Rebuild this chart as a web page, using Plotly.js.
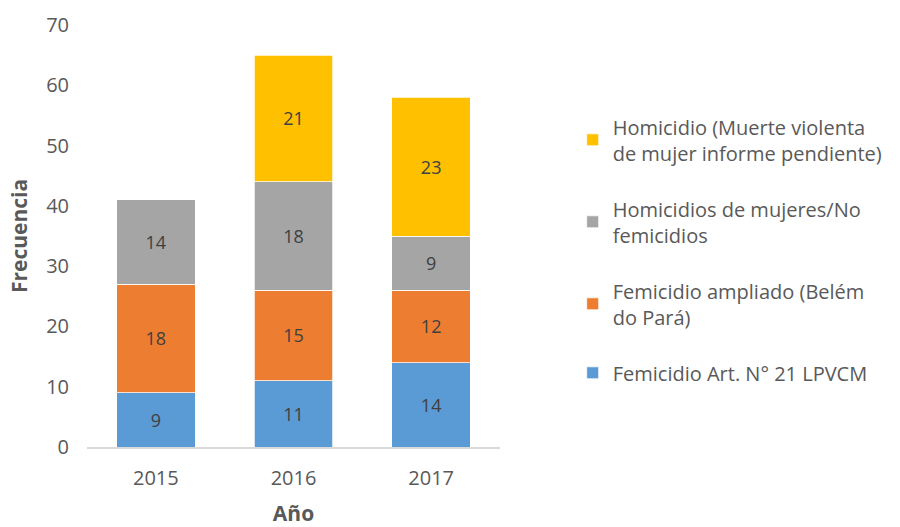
<!DOCTYPE html>
<html>
<head>
<meta charset="utf-8">
<script src="https://cdn.plot.ly/plotly-3.0.1.min.js"></script>
<style>html,body{margin:0;padding:0;background:#fff;}#chart{width:900px;height:527px;}</style>
</head>
<body>
<div id="chart"></div>
<script>
const years = ["2015", "2016", "2017"];
const seriesNames = [
  "Femicidio Art. N° 21 LPVCM",
  "Femicidio ampliado (Belém<br>do Pará)",
  "Homicidios de mujeres/No<br>femicidios",
  "Homicidio (Muerte violenta<br>de mujer informe pendiente)"
];
const femicidioArt21 = [9, 11, 14];
const femicidioAmpliado = [18, 15, 12];
const homicidiosNoFem = [14, 18, 9];
const homicidioPendiente = [null, 21, 23];
const colors = ["#5B9BD5", "#ED7D31", "#A5A5A5", "#FFC000"];
const yTicks = [0, 10, 20, 30, 40, 50, 60, 70];

const allValues = [femicidioArt21, femicidioAmpliado, homicidiosNoFem, homicidioPendiente];
const font = "Open Sans, sans-serif";

const traces = allValues.map((vals, i) => ({
  type: "bar",
  x: years,
  y: vals,
  name: seriesNames[i],
  legendgroup: "g" + i,
  legendrank: 1000 - i,
  marker: {color: colors[i], line: {color: "#ffffff", width: 0.75}},
  texttemplate: "%{y}",
  textposition: "inside",
  insidetextanchor: "middle",
  textangle: 0,
  constraintext: "none",
  insidetextfont: {family: font, size: 18, color: "#404040"},
  hoverinfo: "skip"
}));

const layout = {
  width: 900, height: 527,
  margin: {l: 87, r: 398, t: 25, b: 80},
  paper_bgcolor: "#ffffff", plot_bgcolor: "#ffffff",
  barmode: "stack",
  bargap: 0.43,
  font: {family: font, size: 20, color: "#595959"},
  xaxis: {
    showline: true, linecolor: "#D9D9D9", linewidth: 2,
    showgrid: false, zeroline: false, ticks: "",
    ticklabelstandoff: 12,
    tickfont: {family: font, size: 20, color: "#595959"},
    title: {text: "<b>Año</b>", font: {family: font, size: 21, color: "#595959"}, standoff: 24}
  },
  yaxis: {
    range: [0, 70], tickvals: yTicks, ticktext: yTicks.map(String),
    showline: false, showgrid: false, zeroline: false, ticks: "",
    ticklabelstandoff: 17,
    tickfont: {family: font, size: 20, color: "#595959"},
    title: {text: "<b>Frecuencia</b>", font: {family: font, size: 21, color: "#595959"}, standoff: 12}
  },
  legend: {
    x: 1.176, xanchor: "left", y: 0.805, yanchor: "top",
    traceorder: "grouped",
    tracegroupgap: 27,
    font: {family: font, size: 20, color: "#595959"},
    bgcolor: "rgba(0,0,0,0)"
  },
  showlegend: true
};

Plotly.newPlot("chart", traces, layout, {displayModeBar: false, staticPlot: true});
</script>
</body>
</html>
